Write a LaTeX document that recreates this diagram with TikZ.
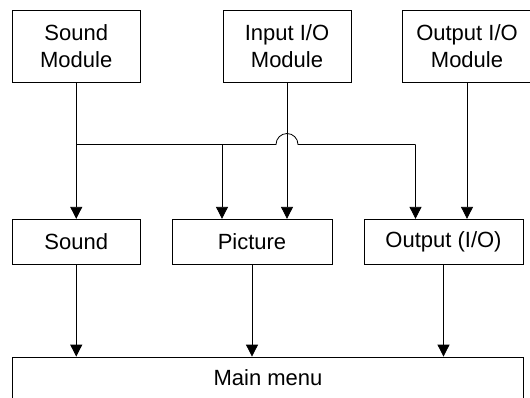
\documentclass[tikz,border=0pt]{standalone}
\usepackage{fontspec}
\setmainfont{Liberation Sans}
\usetikzlibrary{arrows.meta}
\tikzset{pxp/.style={
  x=1pt,
  y=-1pt
}}
\tikzset{modbox/.style={
  draw,
  shape=rectangle,
  line width=0.8pt,
  align=center,
  inner sep=0pt,
  font=\fontsize{22}{27}\selectfont
}}
\tikzset{arr/.style={
  line width=0.8pt,
  -{Triangle[width=12pt,length=12pt]}
}}
\tikzset{wire/.style={line width=0.8pt}}
\begin{document}
\begin{tikzpicture}[pxp]
    \useasboundingbox (0,0) rectangle (530,397);

    % Modules on top
    \node[modbox, minimum width=127.5, minimum height=72] (smod) at (76.25,46) {Sound\\Module};
    \node[modbox, minimum width=128, minimum height=72] (imod) at (287,46) {Input I/O\\Module};
    \node[modbox, minimum width=130, minimum height=72] (omod) at (467,46) {Output I/O\\Module};

    % Middle boxes
    \node[modbox, minimum width=127.5, minimum height=45.5] (snd) at (76.25,242) {Sound};
    \node[modbox, minimum width=160, minimum height=45.5] (pic) at (252,242) {Picture};
    \node[modbox, minimum width=159, minimum height=45.5] (out) at (443.5,242) {Output (I/O)};

    % Main menu
    \node[modbox, minimum width=511, minimum height=42] (menu) at (268,378) {Main menu};

    % Bus from the sound module, hopping over the input line
    \coordinate (jn) at (76.25,144.5);
    \coordinate (hop) at (276,144.5);
    \coordinate (bp) at (222,144.5);
    \coordinate (bo) at (415.5,144.5);
    \draw[wire] (jn) -- (hop)
      arc[start angle=180, end angle=0, radius=11pt] -- (bo);
    \draw[arr] (smod) -- (snd);
    \draw[arr] (bp) -- (bp |- pic.north);
    \draw[arr] (bo) -- (bo |- out.north);
    \draw[arr] (imod.south) -- (imod.south |- pic.north);
    \draw[arr] (omod.south) -- (omod.south |- out.north);

    % Down to the main menu
    \draw[arr] (snd.south) -- (snd.south |- menu.north);
    \draw[arr] (pic.south) -- (pic.south |- menu.north);
    \draw[arr] (out.south) -- (out.south |- menu.north);

  \end{tikzpicture}
\end{document}
